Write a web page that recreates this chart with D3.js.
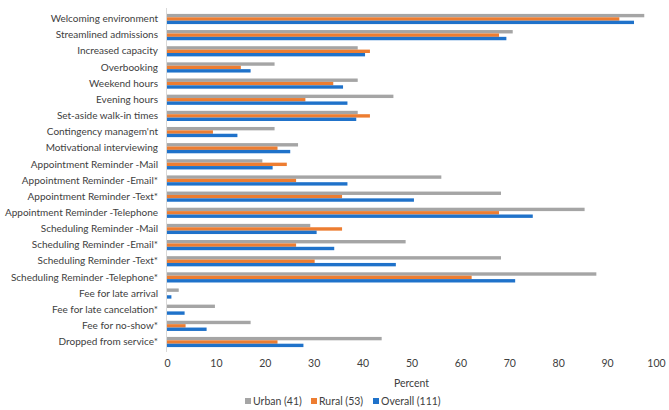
<!DOCTYPE html>
<html><head><meta charset="utf-8">
<script src="https://cdn.jsdelivr.net/npm/d3@7"></script>
<style>body{margin:0;background:#fff}svg{display:block}text{font-family:Lato,"Open Sans",sans-serif;fill:#404040}</style>
</head><body><svg id="c" width="669" height="410"></svg>
<script>
const categories = ["Welcoming environment","Streamlined admissions","Increased capacity","Overbooking","Weekend hours","Evening hours","Set-aside walk-in times","Contingency managem'nt","Motivational interviewing","Appointment Reminder -Mail","Appointment Reminder -Email*","Appointment Reminder -Text*","Appointment Reminder -Telephone","Scheduling Reminder -Mail","Scheduling Reminder -Email*","Scheduling Reminder -Text*","Scheduling Reminder -Telephone*","Fee for late arrival","Fee for late cancelation*","Fee for no-show*","Dropped from service*"];
const urban = [97.6,70.7,39.0,22.0,39.0,46.3,39.0,22.0,26.8,19.5,56.1,68.3,85.4,29.3,48.8,68.3,87.8,2.4,9.8,17.1,43.9];
const rural = [92.5,67.9,41.5,15.1,34.0,28.3,41.5,9.4,22.6,24.5,26.4,35.8,67.9,35.8,26.4,30.2,62.3,0,0,3.8,22.6];
const overall = [95.5,69.4,40.5,17.1,36.0,36.9,38.7,14.4,25.2,21.6,36.9,50.5,74.8,30.6,34.2,46.8,71.2,0.9,3.6,8.1,27.9];
const seriesNames = ["Urban (41)","Rural (53)","Overall (111)"];
const colors = ["#A5A5A5","#ED7D31","#1F72CA"];
const xTicks = [0,10,20,30,40,50,60,70,80,90,100];

const svg = d3.select("#c");
const x = d3.scaleLinear().domain([0,100]).range([167,656]);
const y = d3.scaleBand().domain(categories).range([11,350]).paddingInner(0.37).paddingOuter(0.18);
const sub = d3.scaleBand().domain([0,1,2]).range([0,y.bandwidth()]);
const series = [urban, rural, overall];

const g = svg.append("g");
series.forEach((vals,si)=>{
  g.selectAll(".b"+si).data(categories).enter().append("rect")
    .attr("x", x(0))
    .attr("y", d=>y(d)+sub(si))
    .attr("width", (d,i)=>Math.max(0,x(vals[i])-x(0)))
    .attr("height", sub.bandwidth())
    .attr("fill", colors[si]);
});
// axis line
svg.append("line").attr("x1",x(0)-0.5).attr("x2",x(0)-0.5).attr("y1",8).attr("y2",352).attr("stroke","#d9d9d9").attr("stroke-width",1);

// y labels
const ya = d3.axisLeft(y).tickSize(0).tickPadding(9);
const yg = svg.append("g").attr("transform",`translate(${x(0)},0)`).call(ya);
yg.select(".domain").remove();
yg.selectAll("text").attr("font-size","10px").style("font-family","Lato,'Open Sans',sans-serif").attr("fill","#404040");

// x axis
const xa = d3.axisBottom(x).tickValues(xTicks).tickSize(0).tickPadding(0).tickFormat(d3.format("d"));
const xg = svg.append("g").attr("transform",`translate(0,360)`).call(xa);
xg.select(".domain").remove();
xg.selectAll("text").attr("font-size","10.5px").style("font-family","Lato,'Open Sans',sans-serif").attr("fill","#404040");

svg.append("text").attr("x",(x(0)+x(100))/2).attr("y",387).attr("text-anchor","middle").attr("font-size","10.5px").text("Percent");

// legend
const lg = svg.append("g");
const lx = [245,311,373];
seriesNames.forEach((n,i)=>{
  lg.append("rect").attr("x",lx[i]).attr("y",398).attr("width",6).attr("height",6).attr("fill",colors[i]);
  lg.append("text").attr("x",lx[i]+8).attr("y",405).attr("font-size","10.5px").text(n);
});
</script></body></html>
